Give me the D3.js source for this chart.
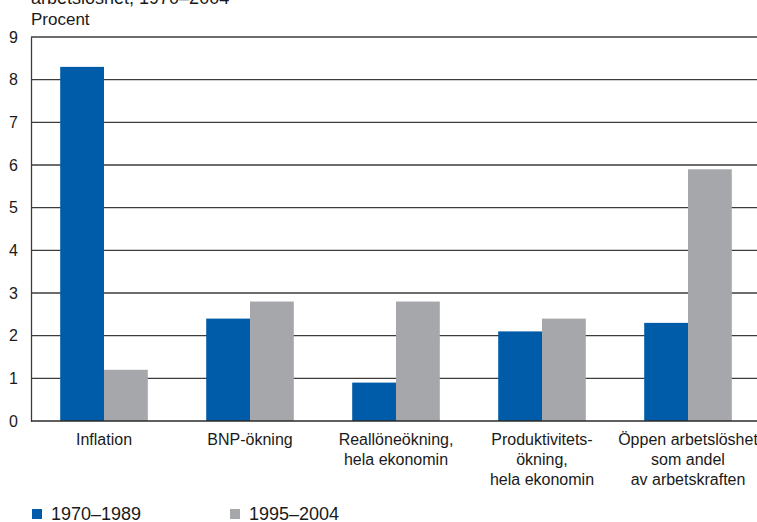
<!DOCTYPE html>
<html>
<head>
<meta charset="utf-8">
<script src="https://cdn.jsdelivr.net/npm/d3@7/dist/d3.min.js"></script>
<style>
  html, body { margin: 0; padding: 0; background: #fff; }
  svg { display: block; }
  text { font-family: "Liberation Sans", Arial, sans-serif; fill: #1a1a1a; }
</style>
</head>
<body>
<svg id="chart" width="757" height="522"></svg>
<script>
// Categories (multi-line labels) and the two period series, in percent
const categories = [
  ["Inflation"],
  ["BNP-ökning"],
  ["Reallöneökning,", "hela ekonomin"],
  ["Produktivitets-", "ökning,", "hela ekonomin"],
  ["Öppen arbetslöshet", "som andel", "av arbetskraften"]
];
const seriesNames = ["1970–1989", "1995–2004"];
const series1970 = [8.3, 2.4, 0.9, 2.1, 2.3];
const series1995 = [1.2, 2.8, 2.8, 2.4, 5.9];
const yTicks = [0, 1, 2, 3, 4, 5, 6, 7, 8, 9];
const titleLine = "arbetslöshet, 1970–2004";
const unitLabel = "Procent";

const colors = ["#005ca9", "#a6a7ab"];

const svg = d3.select("#chart");
const plotLeft = 31, plotRight = 761, plotTop = 37, plotBottom = 421;

const x0 = d3.scaleBand()
  .domain(d3.range(categories.length))
  .range([plotLeft, plotRight])
  .paddingInner(0.4)
  .paddingOuter(0.2);

const x1 = d3.scaleBand()
  .domain([0, 1])
  .range([0, x0.bandwidth()]);

const y = d3.scaleLinear().domain([0, 9]).range([plotBottom, plotTop]);

// Horizontal grid lines
svg.append("g")
  .selectAll("line")
  .data(yTicks.filter(t => t > 0))
  .join("line")
  .attr("x1", plotLeft).attr("x2", 757)
  .attr("y1", d => y(d)).attr("y2", d => y(d))
  .attr("stroke", "#3c3c3c")
  .attr("stroke-width", 1.3);

// Bars
const groups = svg.append("g")
  .selectAll("g")
  .data(categories.map((c, i) => ({ i, vals: [series1970[i], series1995[i]] })))
  .join("g")
  .attr("transform", d => `translate(${x0(d.i)},0)`);

groups.selectAll("rect")
  .data(d => d.vals.map((v, k) => ({ v, k })))
  .join("rect")
  .attr("x", d => x1(d.k))
  .attr("width", x1.bandwidth())
  .attr("y", d => y(d.v))
  .attr("height", d => y(0) - y(d.v))
  .attr("fill", d => colors[d.k]);

// Left axis with tick labels
const yAxis = d3.axisLeft(y).tickValues(yTicks).tickSize(0).tickPadding(13);
const ya = svg.append("g").attr("transform", `translate(${plotLeft},0)`).call(yAxis);
ya.select(".domain").attr("stroke", "#3c3c3c").attr("stroke-width", 1.3);
ya.selectAll("text")
  .style("font-family", "'Liberation Sans', Arial, sans-serif")
  .style("font-size", "16px")
  .attr("fill", "#1a1a1a");

// Baseline
svg.append("line")
  .attr("x1", plotLeft).attr("x2", 757)
  .attr("y1", y(0)).attr("y2", y(0))
  .attr("stroke", "#2a2a2a").attr("stroke-width", 1.5);

// Category labels
const labels = svg.append("g")
  .selectAll("text")
  .data(categories)
  .join("text")
  .attr("text-anchor", "middle")
  .attr("font-size", 16)
  .attr("transform", (d, i) => `translate(${x0(i) + x0.bandwidth() / 2},445)`);
labels.selectAll("tspan")
  .data(d => d)
  .join("tspan")
  .attr("x", 0)
  .attr("dy", (d, k) => k === 0 ? 0 : 20)
  .text(d => d);

// Title lines
svg.append("text").attr("x", 31).attr("y", 4).attr("font-size", 18).text(titleLine);
svg.append("text").attr("x", 31).attr("y", 25).attr("font-size", 17).text(unitLabel);

// Legend
const legend = svg.append("g")
  .selectAll("g")
  .data(seriesNames)
  .join("g")
  .attr("transform", (d, i) => `translate(${32 + i * 198},0)`);
legend.append("rect")
  .attr("x", 0).attr("y", 509).attr("width", 10).attr("height", 10)
  .attr("fill", (d, i) => colors[i]);
legend.append("text")
  .attr("x", 19).attr("y", 520).attr("font-size", 18)
  .text(d => d);
</script>
</body>
</html>
